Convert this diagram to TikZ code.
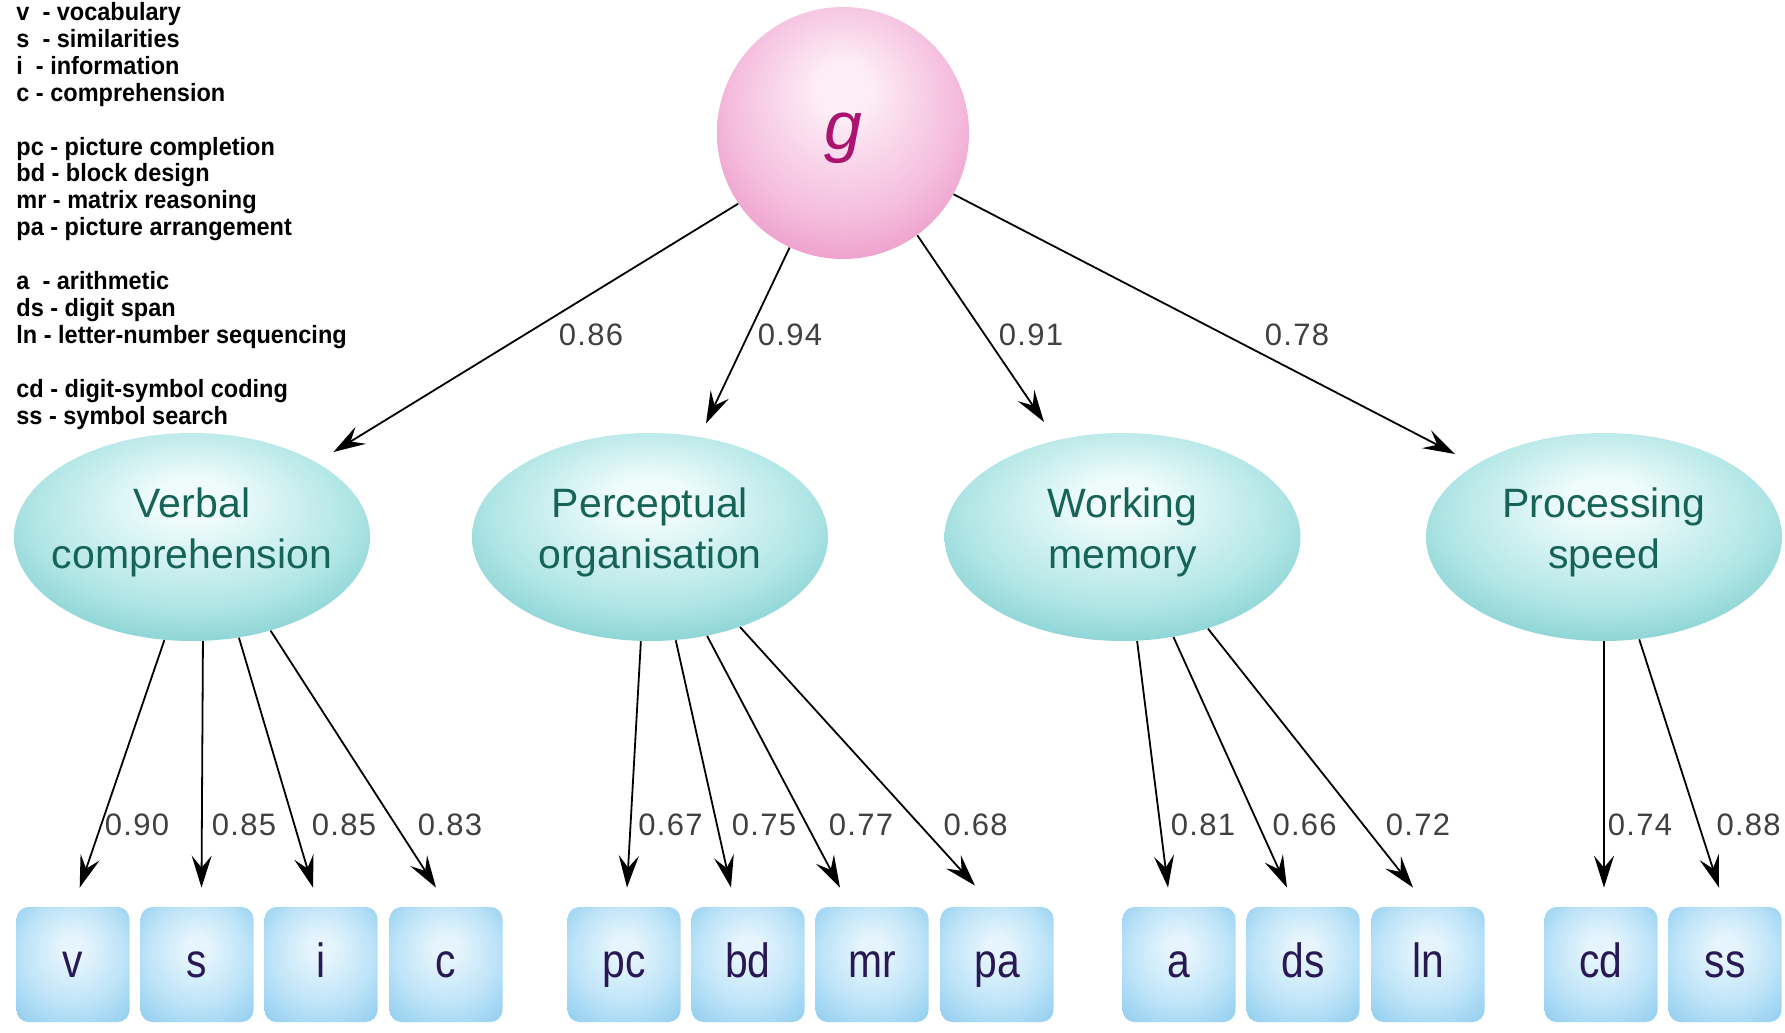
\documentclass[tikz,border=0pt]{standalone}
\usepackage{fontspec}
\setmainfont{Liberation Sans}
\newfontfamily\legfont[FakeStretch=0.94]{Liberation Sans Bold}
\newfontfamily\elfont{Liberation Sans}
\newfontfamily\boxfont[FakeStretch=0.85]{Liberation Sans}
\newfontfamily\numfont[LetterSpace=4]{Liberation Sans}
\newfontfamily\gfont{Liberation Sans Italic}
\usetikzlibrary{shapes.geometric,arrows.meta}

\definecolor{gA}{RGB}{253,238,246}
\definecolor{gB}{RGB}{245,190,222}
\definecolor{gC}{RGB}{233,140,192}
\definecolor{gtxt}{RGB}{170,20,110}
\definecolor{eA}{RGB}{240,252,252}
\definecolor{eB}{RGB}{178,230,230}
\definecolor{eC}{RGB}{115,200,202}
\definecolor{etxt}{RGB}{22,100,88}
\definecolor{bA}{RGB}{230,245,253}
\definecolor{bB}{RGB}{190,228,248}
\definecolor{bC}{RGB}{150,208,240}
\definecolor{btxt}{RGB}{40,25,85}

\pgfdeclareradialshading{gshade}{\pgfqpoint{0bp}{10bp}}{color(0bp)=(gA); color(5bp)=(gA); color(22bp)=(gB); color(35bp)=(gC); color(50bp)=(gC)}
\pgfdeclareradialshading{eshade}{\pgfqpoint{0bp}{10bp}}{color(0bp)=(eA); color(5bp)=(eA); color(22bp)=(eB); color(35bp)=(eC); color(50bp)=(eC)}
\pgfdeclareradialshading{bshade}{\pgfqpoint{0bp}{8bp}}{color(0bp)=(bA); color(5bp)=(bA); color(22bp)=(bB); color(35bp)=(bC); color(50bp)=(bC)}

\tikzset{
  gnode/.style={circle, minimum size=126pt, inner sep=0pt, shading=gshade},
  gtext/.style={font=\gfont\fontsize{34}{40}\selectfont, text=gtxt, text height=17.6pt, text depth=0pt, inner sep=0pt},
  factor/.style={ellipse, minimum width=178pt, minimum height=104pt, inner sep=0pt, shading=eshade},
  etext/.style={font=\elfont\fontsize{20.5}{25.6}\selectfont, text=etxt, align=center, inner sep=0pt},
  tbox/.style={rectangle, rounded corners=6pt, minimum width=56.5pt, minimum height=57.5pt, inner sep=0pt, shading=bshade, font=\boxfont\fontsize{24}{28}\selectfont, text=btxt, text height=12.5pt, text depth=0pt},
  loadlbl/.style={font=\numfont\fontsize{15.5}{18}\selectfont, text=black!75, inner sep=0pt},
  arr/.style={draw, line width=0.9pt, -{Stealth[length=16pt,width=10pt,inset=6pt]}},
}

\begin{document}
\begin{tikzpicture}[x=0.5pt,y=-0.5pt]
\fill[white] (0,0) rectangle (1785,1033);
\useasboundingbox (0,0) rectangle (1785,1033);

% legend
\node[anchor=north west, inner sep=0pt, align=left, font=\legfont\fontsize{12.5}{13.45}\selectfont] (legend) at (16,2)
{v\ \ - vocabulary\\
s\ \ - similarities\\
i\ \ - information\\
c - comprehension\\[13.45pt]
pc - picture completion\\
bd - block design\\
mr - matrix reasoning\\
pa - picture arrangement\\[13.45pt]
a\ \ - arithmetic\\
ds - digit span\\
ln - letter-number sequencing\\[13.45pt]
cd - digit-symbol coding\\
ss - symbol search};

% g
\node[gnode] (g) at (843,133) {};
\node[gtext] (gt) at ([yshift=0.5pt]g.center) {g};

% factors
\node[factor] (vc) at (192,537) {};
\node[factor] (po) at (650,537) {};
\node[factor] (wm) at (1122.5,537) {};
\node[factor] (ps) at (1604,537) {};
\node[etext] (vct) at ([yshift=2.3pt]vc.center) {Verbal\strut\\comprehension\strut};
\node[etext] (pot) at ([yshift=2.3pt]po.center) {Perceptual\strut\\organisation\strut};
\node[etext] (wmt) at ([yshift=2.3pt]wm.center) {Working\strut\\memory\strut};
\node[etext] (pst) at ([yshift=2.3pt]ps.center) {Processing\strut\\speed\strut};

% subtests
\node[tbox] (v)  at (73,964.5)   {v};
\node[tbox] (s)  at (197,964.5)  {s};
\node[tbox] (i)  at (321,964.5)  {i};
\node[tbox] (c)  at (446,964.5)  {c};
\node[tbox] (pc) at (624,964.5)  {pc};
\node[tbox] (bd) at (748,964.5)  {bd};
\node[tbox] (mr) at (872,964.5)  {mr};
\node[tbox] (pa) at (997,964.5)  {pa};
\node[tbox] (a)  at (1179,964.5) {a};
\node[tbox] (ds) at (1303,964.5) {ds};
\node[tbox] (ln) at (1428,964.5) {ln};
\node[tbox] (cd) at (1601,964.5) {cd};
\node[tbox] (ss) at (1725,964.5) {ss};

% arrows from g
\draw[arr] (g.214) -- ([shift={(141.5,-85)}]vc.center);
\draw[arr] (g.245) -- ([shift={(56,-113.5)}]po.center);
\draw[arr] (g.306) -- ([shift={(-78.5,-115)}]wm.center);
\draw[arr] (g.331) -- ([shift={(-149,-83)}]ps.center);

% arrows to subtests
\draw[arr] (vc.255) -- ([shift={(6.7,-19)}]v.north);
\draw[arr] (vc.276) -- ([shift={(4.5,-19)}]s.north);
\draw[arr] (vc.295) -- ([shift={(-8,-19)}]i.north);
\draw[arr] (vc.310) -- ([shift={(-10,-19)}]c.north);
\draw[arr] (po.265) -- ([shift={(3,-19)}]pc.north);
\draw[arr] (po.284) -- ([shift={(-17,-19)}]bd.north);
\draw[arr] (po.300) -- ([shift={(-32,-19)}]mr.north);
\draw[arr] (po.315) -- ([shift={(-22,-21)}]pa.north);
\draw[arr] (wm.278) -- ([shift={(-11,-19)}]a.north);
\draw[arr] (wm.297) -- ([shift={(-16,-19)}]ds.north);
\draw[arr] (wm.313) -- ([shift={(-15,-19)}]ln.north);
\draw[arr] (ps.270) -- ([shift={(3,-19)}]cd.north);
\draw[arr] (ps.289) -- ([shift={(-6,-19)}]ss.north);

% loadings
\node[loadlbl] (l1) at (591,335) {0.86};
\node[loadlbl] (l2) at (790,335) {0.94};
\node[loadlbl] (l3) at (1031,335) {0.91};
\node[loadlbl] (l4) at (1297,335) {0.78};
\node[loadlbl] (m1) at (137,825) {0.90};
\node[loadlbl] (m2) at (244,825) {0.85};
\node[loadlbl] (m3) at (344,825) {0.85};
\node[loadlbl] (m4) at (450,825) {0.83};
\node[loadlbl] (m5) at (670.5,825) {0.67};
\node[loadlbl] (m6) at (764,825) {0.75};
\node[loadlbl] (m7) at (861,825) {0.77};
\node[loadlbl] (m8) at (975.6,825) {0.68};
\node[loadlbl] (m9) at (1203,825) {0.81};
\node[loadlbl] (m10) at (1304.6,825) {0.66};
\node[loadlbl] (m11) at (1418,825) {0.72};
\node[loadlbl] (m12) at (1640,825) {0.74};
\node[loadlbl] (m13) at (1748.6,825) {0.88};
\end{tikzpicture}
\end{document}
